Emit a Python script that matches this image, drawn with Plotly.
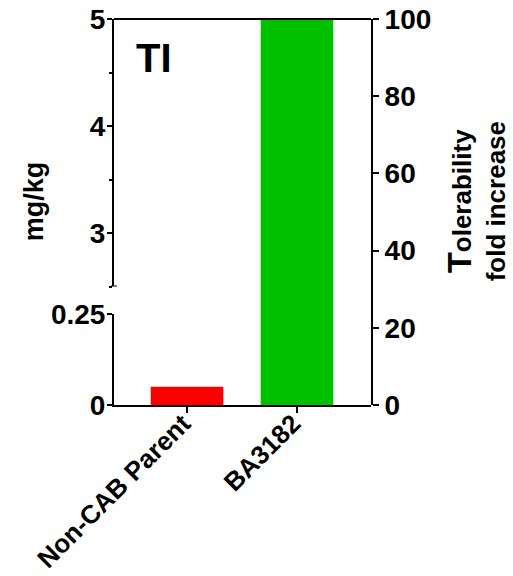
import plotly.graph_objects as go

# Maximum tolerated dose per construct (mg/kg) and tolerability fold increase
categories = ["Non-CAB Parent", "BA3182"]
mtd_mg_kg = [0.05, 5.0]
fold_increase = [1, 100]

# Axis tick values
lower_ticks = [0, 0.25]
lower_ticktext = ["0", "0.25"]
upper_ticks = [3, 4, 5]
right_ticks = [0, 20, 40, 60, 80, 100]

bar_colors = ["#FF0000", "#00C000"]
FONT = "Liberation Sans"
LW = 2

fig = go.Figure()

# Parent construct on the lower (broken) mg/kg axis
fig.add_trace(go.Bar(
    x=[categories[0]], y=[mtd_mg_kg[0]], yaxis="y",
    marker=dict(color=bar_colors[0], line=dict(width=0)),
    width=0.66, showlegend=False,
))
# BA3182 on the fold-increase axis (spans the full height)
fig.add_trace(go.Bar(
    x=[categories[1]], y=[fold_increase[1]], yaxis="y3",
    marker=dict(color=bar_colors[1], line=dict(width=0)),
    width=0.66, showlegend=False,
))

tick_font = dict(family=FONT, size=28, color="black", weight="bold")
common_axis = dict(
    showline=True, linecolor="black", linewidth=LW,
    ticks="outside", tickcolor="black", tickwidth=LW,
    showgrid=False, zeroline=False, automargin=False,
    tickfont=tick_font,
)

fig.update_layout(
    template="none",
    width=513, height=576,
    margin=dict(l=114, r=142, t=19, b=171),
    paper_bgcolor="white", plot_bgcolor="rgba(0,0,0,0)",
    barmode="overlay",
    showlegend=False,
    xaxis=dict(
        **{**common_axis, "tickfont": dict(tick_font, size=26)},
        ticklen=6, anchor="y",
        type="category", categoryorder="array", categoryarray=categories,
        range=[-0.664, 1.673], tickangle=-45,
        ticklabelstandoff=-15, ticklabelshift=-4,
    ),
    yaxis=dict(
        **common_axis, ticklen=5, anchor="x", ticklabelstandoff=-4,
        domain=[0, 0.2358], range=[0, 0.25],
        tickmode="array", tickvals=lower_ticks, ticktext=lower_ticktext,
    ),
    yaxis2=dict(
        **common_axis, ticklen=5, anchor="x", ticklabelstandoff=-4,
        domain=[0.307, 1], range=[2.5, 5],
        tickmode="array", tickvals=upper_ticks,
        minor=dict(ticks="outside", ticklen=3, tickwidth=LW, tickcolor="black",
                   tick0=2.5, dtick=0.5, showgrid=False),
    ),
    yaxis3=dict(
        **common_axis, ticklen=6, anchor="x", side="right",
        domain=[0, 1], range=[0, 100],
        tickmode="array", tickvals=right_ticks,
    ),
)

# Top frame line and the end cap of the upper axis segment
fig.add_shape(type="line", xref="paper", yref="paper", x0=0, x1=1, y0=1, y1=1,
              line=dict(color="black", width=LW))
fig.add_shape(type="line", xref="paper", yref="y2", x0=-0.012, x1=0.012, y0=2.5, y1=2.5,
              line=dict(color="black", width=LW))

fig.add_annotation(
    text="TI", xref="paper", yref="paper", x=0.078, y=0.899,
    xanchor="left", yanchor="middle", showarrow=False,
    font=dict(family=FONT, size=40, color="black", weight="bold"),
)
fig.add_annotation(
    text="mg/kg", xref="paper", yref="paper", x=-0.31, y=0.5285,
    xanchor="center", yanchor="middle", showarrow=False, textangle=-90,
    font=dict(family=FONT, size=27, color="black", weight="bold"),
)
fig.add_annotation(
    text="<span style='font-size:34px'>T</span>olerability<br>fold increase",
    xref="paper", yref="paper", x=1.41, y=0.5285,
    xanchor="center", yanchor="middle", showarrow=False, textangle=-90,
    font=dict(family=FONT, size=26, color="black", weight="bold"),
)

fig.write_html("out.html")
